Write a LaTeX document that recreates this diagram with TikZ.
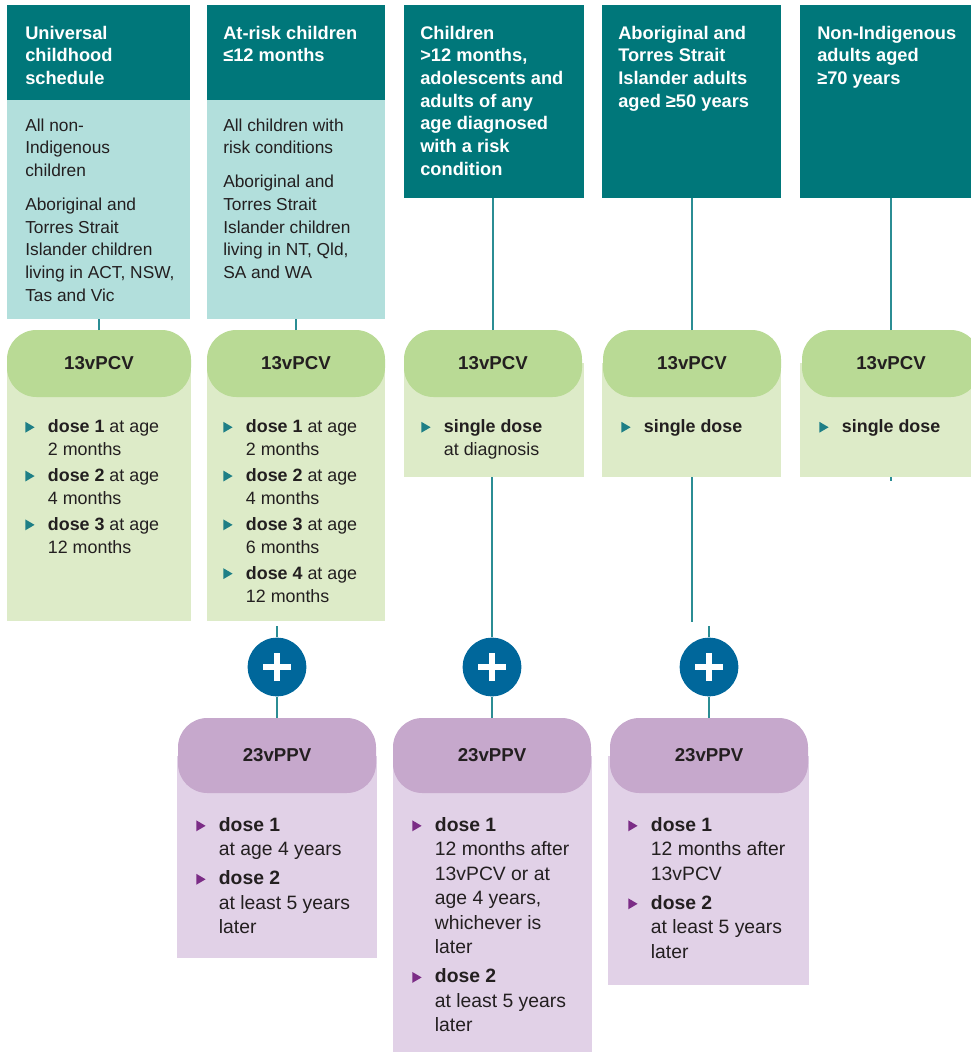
\documentclass[tikz,border=0pt]{standalone}
\usepackage{fontspec}
\setmainfont{Liberation Sans}
\usetikzlibrary{fit}

\definecolor{hdteal}{HTML}{00777A}
\definecolor{lteal}{HTML}{B2DFDC}
\definecolor{tabgreen}{HTML}{B9DA95}
\definecolor{bodygreen}{HTML}{DDEBC8}
\definecolor{tabpurple}{HTML}{C6A8CC}
\definecolor{bodypurple}{HTML}{E1D1E7}
\definecolor{plusblue}{HTML}{00679B}
\definecolor{linkteal}{HTML}{2B8D94}
\definecolor{bulteal}{HTML}{1E7F86}
\definecolor{bulpurple}{HTML}{7B2C86}
\definecolor{ink}{HTML}{231F20}

% bullet triangles and the hanging indent after them
\newcommand{\tealtri}{\makebox[17pt][l]{\tikz\fill[bulteal] (0,-0.3pt) -- (0,7.9pt) -- (7pt,3.8pt) -- cycle;}}
\newcommand{\plumtri}{\makebox[17pt][l]{\tikz\fill[bulpurple] (0,-0.3pt) -- (0,7.9pt) -- (7pt,3.8pt) -- cycle;}}
\newcommand{\ind}{\hspace*{17pt}}

\tikzset{
	panel/.style={inner sep=0pt, outer sep=0pt},
	head/.style={panel, fill=hdteal},
	who/.style={panel, fill=lteal},
	pcvbody/.style={panel, fill=bodygreen},
	ppvbody/.style={panel, fill=bodypurple},
	tablbl/.style={inner sep=0pt, text=ink, font=\fontsize{14}{16}\selectfont\bfseries},
	pcvtab/.style={panel, fill=tabgreen, rounded corners=22pt, label={[tablbl]center:#1}},
	ppvtab/.style={panel, fill=tabpurple, rounded corners=22pt, label={[tablbl]center:#1}},
	txt/.style={anchor=north west, inner sep=0pt, align=left, text=ink, font=\fontsize{13}{17}\selectfont},
	headtxt/.style={txt, text=white, font=\fontsize{13.7}{17}\selectfont\bfseries},
	dosetxt/.style={txt, font=\fontsize{13.4}{17.3}\selectfont},
	ppvtxt/.style={txt, font=\fontsize{14.5}{18.4}\selectfont},
	link/.style={draw=linkteal, line width=1.4pt},
	plus/.style={circle, fill=plusblue, minimum size=44pt, inner sep=0pt,
		path picture={\draw[white, line width=4.8pt] (path picture bounding box.center) +(-10.5pt,0) -- +(10.5pt,0) +(0,-10.5pt) -- +(0,10.5pt);}}
}

\begin{document}
\begin{tikzpicture}[x=0.75pt, y=-0.75pt]
	\useasboundingbox (0,0) rectangle (970,1052);

	% Universal childhood schedule
	\node[head, fit={(7,5) (190,100)}] (h1) {};
	\node[who, fit={(7,100) (190,319)}] (w1) {};
	\node[headtxt] (h1txt) at (25,25.5) {Universal\\childhood\\schedule};
	\node[txt] (w1txt) at (25,118.5) {All non-\\Indigenous\\children\\[8.5pt]Aboriginal and\\Torres Strait\\Islander children\\living in ACT, NSW,\\Tas and Vic};
	\node[pcvbody, fit={(7,363) (191,621)}] (g1) {};
	\node[pcvtab=13vPCV, fit={(7,330) (191,397)}] (t1) {};
	\node[dosetxt] (g1txt) at (25,419.5) {\tealtri\textbf{dose 1} at age\\\ind 2 months\\[2pt]\tealtri\textbf{dose 2} at age\\\ind 4 months\\[2pt]\tealtri\textbf{dose 3} at age\\\ind 12 months};
	\draw[link] (t1.north) -- (t1.north |- w1.south);

	% At-risk children up to 12 months
	\node[head, fit={(207,5) (385,100)}] (h2) {};
	\node[who, fit={(207,100) (385,319)}] (w2) {};
	\node[headtxt] (h2txt) at (223,25.5) {At-risk children\\≤12 months};
	\node[txt] (w2txt) at (223,118.5) {All children with\\risk conditions\\[8.5pt]Aboriginal and\\Torres Strait\\Islander children\\living in NT, Qld,\\SA and WA};
	\node[pcvbody, fit={(207,363) (385,621)}] (g2) {};
	\node[pcvtab=13vPCV, fit={(207,330) (385,397)}] (t2) {};
	\node[dosetxt] (g2txt) at (223,419.5) {\tealtri\textbf{dose 1} at age\\\ind 2 months\\[2pt]\tealtri\textbf{dose 2} at age\\\ind 4 months\\[2pt]\tealtri\textbf{dose 3} at age\\\ind 6 months\\[2pt]\tealtri\textbf{dose 4} at age\\\ind 12 months};
	\draw[link] (t2.north) -- (t2.north |- w2.south);

	% Risk condition at any age
	\node[head, fit={(404,5) (584,198)}] (h3) {};
	\node[headtxt] (h3txt) at (420,25.5) {Children\\>12 months,\\adolescents and\\adults of any\\age diagnosed\\with a risk\\condition};
	\node[pcvbody, fit={(404,363) (584,477)}] (g3) {};
	\node[pcvtab=13vPCV, fit={(404,330) (582,397)}] (t3) {};
	\node[dosetxt] (g3txt) at (421,419.5) {\tealtri\textbf{single dose}\\\ind at diagnosis};
	\draw[link] (t3.north) -- (t3.north |- h3.south);

	% Aboriginal and Torres Strait Islander adults
	\node[head, fit={(602,5) (781,198)}] (h4) {};
	\node[headtxt] (h4txt) at (618,25.5) {Aboriginal and\\Torres Strait\\Islander adults\\aged ≥50 years};
	\node[pcvbody, fit={(602,363) (781,477)}] (g4) {};
	\node[pcvtab=13vPCV, fit={(603,330) (781,397)}] (t4) {};
	\node[dosetxt] (g4txt) at (621,419.5) {\tealtri\textbf{single dose}};
	\draw[link] (t4.north) -- (t4.north |- h4.south);

	% Non-Indigenous adults
	\node[head, fit={(800,5) (982,198)}] (h5) {};
	\node[headtxt] (h5txt) at (817,25.5) {Non-Indigenous\\adults aged\\≥70 years};
	\node[pcvbody, fit={(800,363) (982,477)}] (g5) {};
	\node[pcvtab=13vPCV, fit={(802,330) (980,397)}] (t5) {};
	\node[dosetxt] (g5txt) at (819,419.5) {\tealtri\textbf{single dose}};
	\draw[link] (t5.north) -- (t5.north |- h5.south);
	\coordinate (g5end) at (891,481);
	\draw[link] (g5end |- g5.south) -- (g5end);

	% plus signs
	\node[plus] (p1) at (277,667) {};
	\node[plus] (p2) at (492,667) {};
	\node[plus] (p3) at (709,667) {};
	\coordinate (p1top) at (277,626);
	\coordinate (c4end) at (692,622);
	\coordinate (p3top) at (709,626);
	\draw[link] (p1top) -- (p1.north);
	\draw[link] (p2.north |- g3.south) -- (p2.north);
	\draw[link] (c4end |- g4.south) -- (c4end);
	\draw[link] (p3top) -- (p3.north);

	% 23vPPV after the universal schedule
	\node[ppvbody, fit={(177,756) (377,958)}] (v1) {};
	\node[ppvtab=23vPPV, fit={(178,718) (376,793)}] (u1) {};
	\node[ppvtxt] (v1txt) at (196,817) {\plumtri\textbf{dose 1}\\\ind at age 4 years\\[3.3pt]\plumtri\textbf{dose 2}\\\ind at least 5 years\\\ind later};
	\draw[link] (p1.south) -- (p1.south |- u1.north);

	% 23vPPV after a risk condition
	\node[ppvbody, fit={(393,756) (592,1052)}] (v2) {};
	\node[ppvtab=23vPPV, fit={(393,718) (591,793)}] (u2) {};
	\node[ppvtxt] (v2txt) at (412,817) {\plumtri\textbf{dose 1}\\\ind 12 months after\\\ind 13vPCV or at\\\ind age 4 years,\\\ind whichever is\\\ind later\\[3.3pt]\plumtri\textbf{dose 2}\\\ind at least 5 years\\\ind later};
	\draw[link] (p2.south) -- (p2.south |- u2.north);

	% 23vPPV for Aboriginal and Torres Strait Islander adults
	\node[ppvbody, fit={(608,756) (809,985)}] (v3) {};
	\node[ppvtab=23vPPV, fit={(610,718) (808,793)}] (u3) {};
	\node[ppvtxt] (v3txt) at (628,817) {\plumtri\textbf{dose 1}\\\ind 12 months after\\\ind 13vPCV\\[3.3pt]\plumtri\textbf{dose 2}\\\ind at least 5 years\\\ind later};
	\draw[link] (p3.south) -- (p3.south |- u3.north);
\end{tikzpicture}
\end{document}
